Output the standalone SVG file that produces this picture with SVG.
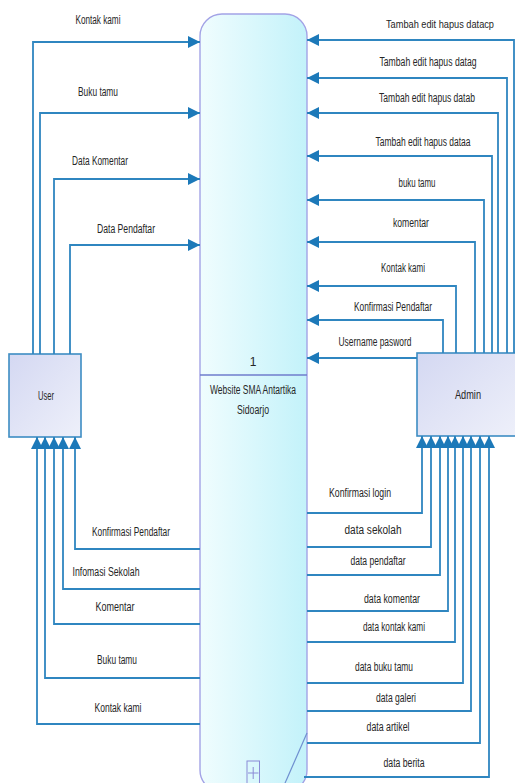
<svg xmlns="http://www.w3.org/2000/svg" width="515" height="783" viewBox="0 0 515 783">
<style>
.c{fill:none;stroke:#2f86c0;stroke-width:1.8}
.t{font-family:"Liberation Sans",Arial,sans-serif;font-size:12px;fill:#262626;text-anchor:middle}
.ent{stroke:#3d8dc3;stroke-width:1.6;fill:url(#eg)}
</style>
<defs>
<linearGradient id="pg" x1="0" y1="0" x2="1" y2="0">
<stop offset="0" stop-color="#f0fdfe"/>
<stop offset="1" stop-color="#c3f2fa"/>
</linearGradient>
<linearGradient id="eg" x1="0" y1="0" x2="1" y2="1">
<stop offset="0" stop-color="#d4d8f2"/>
<stop offset="1" stop-color="#eef0fa"/>
</linearGradient>
<marker id="ah" markerUnits="userSpaceOnUse" markerWidth="12" markerHeight="12" refX="10" refY="5" orient="auto" viewBox="0 0 10 10">
<path d="M0,0 L10,5 L0,10 z" fill="#1c79b9"/>
</marker>
</defs>
<rect width="515" height="783" fill="#ffffff"/>

<g id="process">
<rect x="200" y="14" width="107" height="778" rx="22" ry="22" fill="url(#pg)" stroke="#a3a3e6" stroke-width="1.4"/>
<line x1="200" y1="375" x2="307" y2="375" stroke="#6f7dcc" stroke-width="1.4"/>
<line x1="307" y1="733" x2="282" y2="790" stroke="#6f8fd0" stroke-width="1.2"/>
<text class="t" x="253" y="366">1</text>
<text class="t" x="253" y="394" textLength="86" lengthAdjust="spacingAndGlyphs">Website SMA Antartika</text>
<text class="t" x="253" y="414" textLength="32" lengthAdjust="spacingAndGlyphs">Sidoarjo</text>
<rect x="247" y="761" width="12.5" height="30" fill="none" stroke="#8a8ad6" stroke-width="1"/>
<line x1="253.2" y1="767" x2="253.2" y2="779" stroke="#8a8ad6" stroke-width="1"/>
<line x1="248" y1="773" x2="258.5" y2="773" stroke="#8a8ad6" stroke-width="1"/>
</g>

<g id="user">
<rect class="ent" x="9" y="354" width="72" height="83"/>
<text class="t" x="46" y="400" textLength="16" lengthAdjust="spacingAndGlyphs">User</text>
</g>

<g id="admin">
<rect class="ent" x="417" y="353" width="100" height="83"/>
<text class="t" x="468" y="399" textLength="26" lengthAdjust="spacingAndGlyphs">Admin</text>
</g>

<g id="connectors">
<path class="c" marker-end="url(#ah)" d="M33,354 V42 H200"/>
<path class="c" marker-end="url(#ah)" d="M40,354 V113 H200"/>
<path class="c" marker-end="url(#ah)" d="M54,354 V179 H200"/>
<path class="c" marker-end="url(#ah)" d="M70,354 V245 H200"/>

<path class="c" marker-end="url(#ah)" d="M200,549 H75 V437"/>
<path class="c" marker-end="url(#ah)" d="M200,589 H63 V437"/>
<path class="c" marker-end="url(#ah)" d="M200,624 H54 V437"/>
<path class="c" marker-end="url(#ah)" d="M200,678 H45 V437"/>
<path class="c" marker-end="url(#ah)" d="M200,724 H37 V437"/>

<path class="c" marker-end="url(#ah)" d="M514,353 V40 H307"/>
<path class="c" marker-end="url(#ah)" d="M507,353 V78 H307"/>
<path class="c" marker-end="url(#ah)" d="M498,353 V113 H307"/>
<path class="c" marker-end="url(#ah)" d="M492,353 V156 H307"/>
<path class="c" marker-end="url(#ah)" d="M484,353 V200 H307"/>
<path class="c" marker-end="url(#ah)" d="M475,353 V242 H307"/>
<path class="c" marker-end="url(#ah)" d="M456,353 V286 H307"/>
<path class="c" marker-end="url(#ah)" d="M443,353 V320 H307"/>
<path class="c" marker-end="url(#ah)" d="M417,358 H307"/>

<path class="c" marker-end="url(#ah)" d="M307,513 H422 V436"/>
<path class="c" marker-end="url(#ah)" d="M307,547 H431 V436"/>
<path class="c" marker-end="url(#ah)" d="M307,575 H440 V436"/>
<path class="c" marker-end="url(#ah)" d="M307,611 H448 V436"/>
<path class="c" marker-end="url(#ah)" d="M307,642 H455 V436"/>
<path class="c" marker-end="url(#ah)" d="M307,683 H463 V436"/>
<path class="c" marker-end="url(#ah)" d="M307,711 H471 V436"/>
<path class="c" marker-end="url(#ah)" d="M307,743 H480 V436"/>
<path class="c" marker-end="url(#ah)" d="M304,777 H489 V436"/>
</g>

<g id="labels">
<text class="t" x="98" y="24" textLength="45" lengthAdjust="spacingAndGlyphs">Kontak kami</text>
<text class="t" x="98" y="96" textLength="40" lengthAdjust="spacingAndGlyphs">Buku tamu</text>
<text class="t" x="100" y="165" textLength="56" lengthAdjust="spacingAndGlyphs">Data Komentar</text>
<text class="t" x="126" y="233" textLength="58" lengthAdjust="spacingAndGlyphs">Data Pendaftar</text>

<text class="t" x="131" y="536" textLength="78" lengthAdjust="spacingAndGlyphs">Konfirmasi Pendaftar</text>
<text class="t" x="106" y="576" textLength="67" lengthAdjust="spacingAndGlyphs">Infomasi Sekolah</text>
<text class="t" x="115" y="611" textLength="39" lengthAdjust="spacingAndGlyphs">Komentar</text>
<text class="t" x="117" y="664" textLength="40" lengthAdjust="spacingAndGlyphs">Buku tamu</text>
<text class="t" x="118" y="712" textLength="47" lengthAdjust="spacingAndGlyphs">Kontak kami</text>

<text class="t" x="440" y="28" style="font-size:11px" textLength="108" lengthAdjust="spacingAndGlyphs">Tambah edit hapus datacp</text>
<text class="t" x="428" y="66" textLength="97" lengthAdjust="spacingAndGlyphs">Tambah edit hapus datag</text>
<text class="t" x="427" y="102" textLength="96" lengthAdjust="spacingAndGlyphs">Tambah edit hapus datab</text>
<text class="t" x="423" y="146" textLength="95" lengthAdjust="spacingAndGlyphs">Tambah edit hapus dataa</text>
<text class="t" x="417" y="187" textLength="37" lengthAdjust="spacingAndGlyphs">buku tamu</text>
<text class="t" x="411" y="227" textLength="36" lengthAdjust="spacingAndGlyphs">komentar</text>
<text class="t" x="403" y="272" textLength="44" lengthAdjust="spacingAndGlyphs">Kontak kami</text>
<text class="t" x="393" y="311" textLength="78" lengthAdjust="spacingAndGlyphs">Konfirmasi Pendaftar</text>
<text class="t" x="375" y="346" textLength="73" lengthAdjust="spacingAndGlyphs">Username pasword</text>

<text class="t" x="360" y="497" textLength="62" lengthAdjust="spacingAndGlyphs">Konfirmasi login</text>
<text class="t" x="373" y="534" textLength="57" lengthAdjust="spacingAndGlyphs">data sekolah</text>
<text class="t" x="378" y="565" textLength="55" lengthAdjust="spacingAndGlyphs">data pendaftar</text>
<text class="t" x="392" y="603" textLength="56" lengthAdjust="spacingAndGlyphs">data komentar</text>
<text class="t" x="394" y="631" textLength="62" lengthAdjust="spacingAndGlyphs">data kontak kami</text>
<text class="t" x="384" y="671" textLength="58" lengthAdjust="spacingAndGlyphs">data buku tamu</text>
<text class="t" x="396" y="702" textLength="40" lengthAdjust="spacingAndGlyphs">data galeri</text>
<text class="t" x="388" y="731" textLength="43" lengthAdjust="spacingAndGlyphs">data artikel</text>
<text class="t" x="404" y="767" textLength="41" lengthAdjust="spacingAndGlyphs">data berita</text>
</g>
</svg>
